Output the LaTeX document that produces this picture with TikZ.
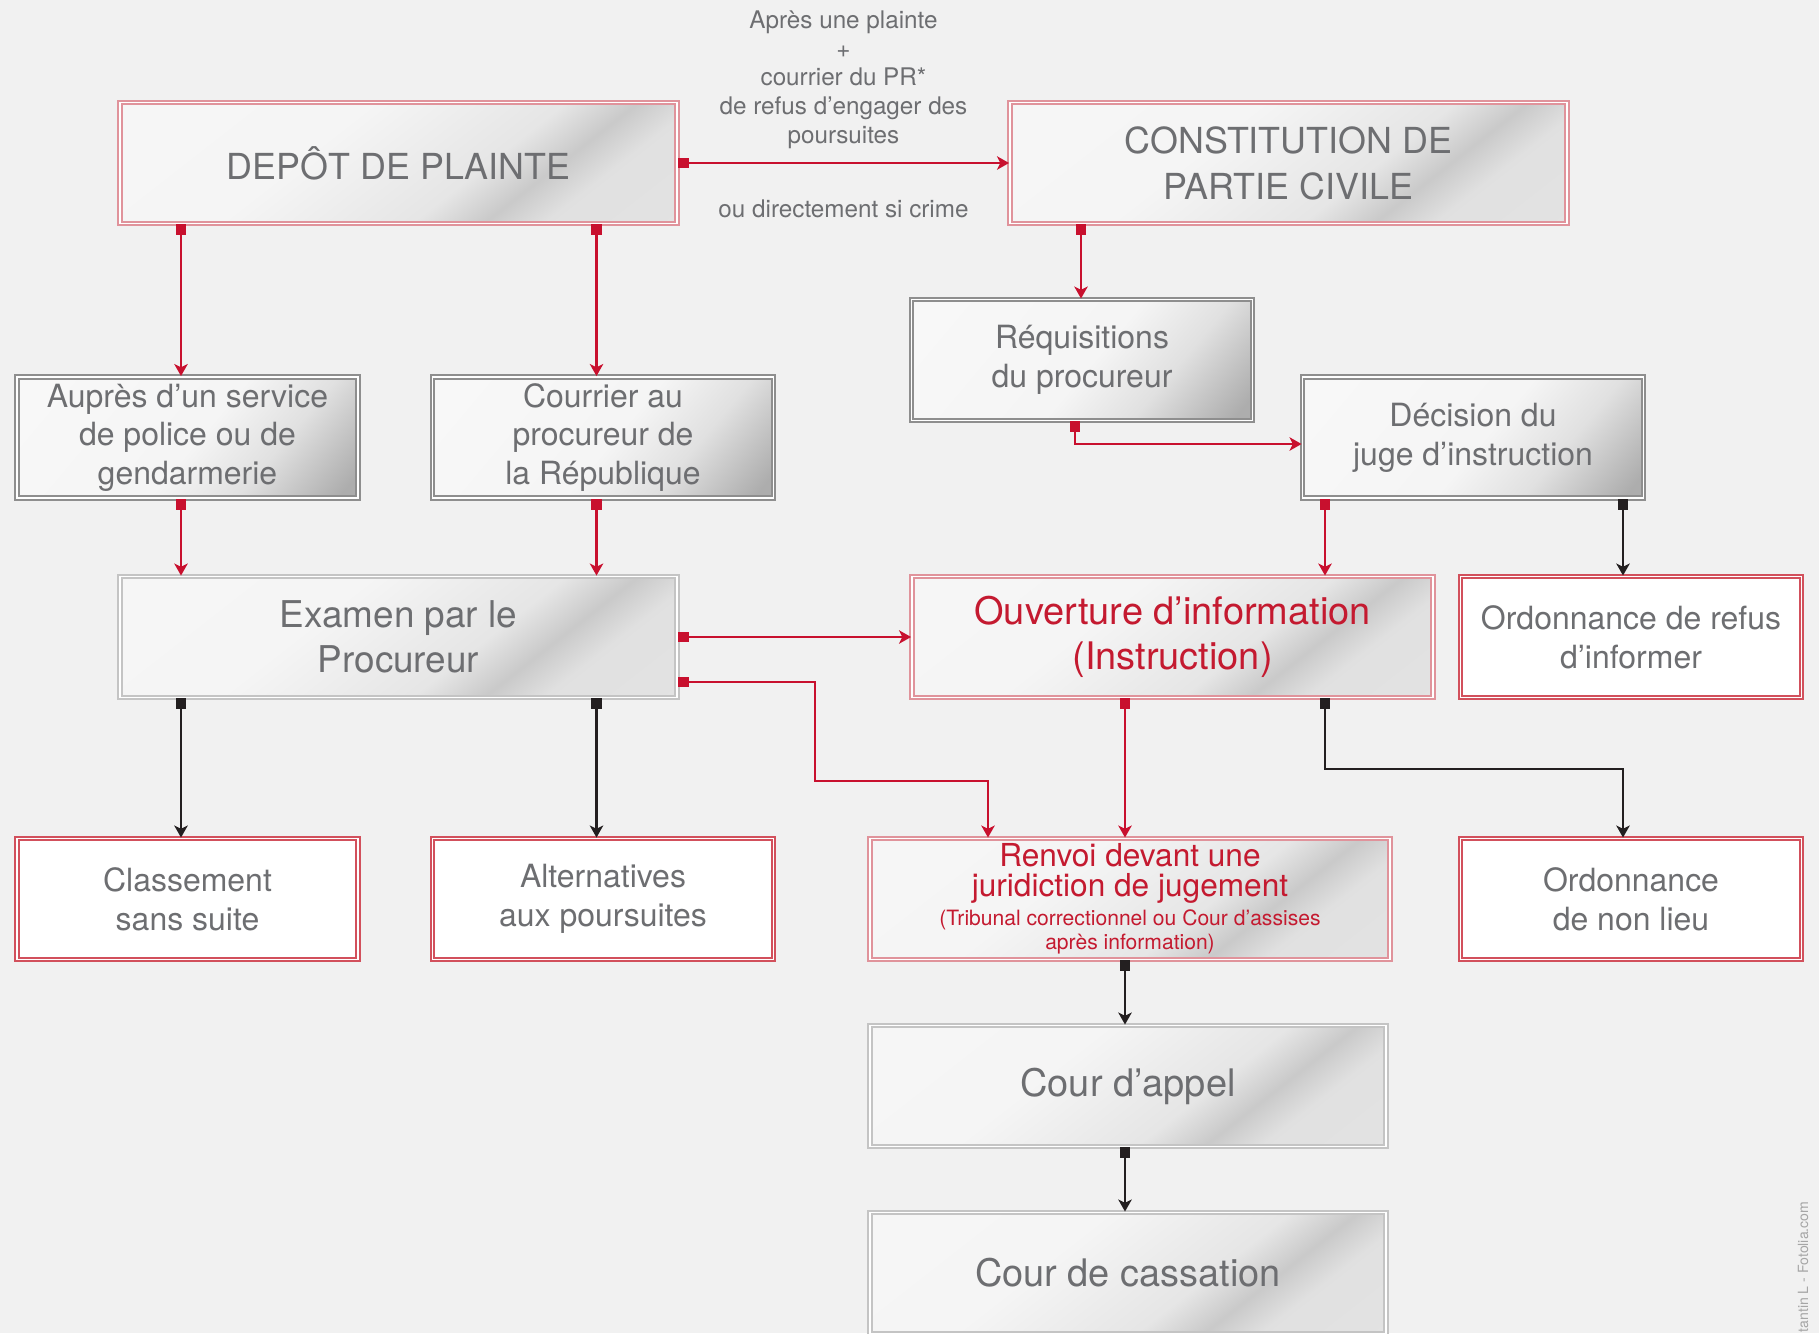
\documentclass[tikz,border=0pt]{standalone}
\usepackage{fontspec}
\setmainfont{TeX Gyre Heros}
\usepackage{tikz}
\usetikzlibrary{arrows,arrows.meta}
\definecolor{bgfill}{HTML}{F1F1F1}
\definecolor{txtgray}{HTML}{6D6E71}
\definecolor{txtred}{HTML}{C41A30}
\definecolor{linered}{HTML}{C8102E}
\definecolor{lineblack}{HTML}{231F20}
\definecolor{boxgray}{HTML}{8E8E8E}
\definecolor{palegray}{HTML}{C4C4C4}
\definecolor{redpale}{HTML}{E0939B}
\definecolor{boxred}{HTML}{D2505C}
\pgfdeclarehorizontalshading{sheen}{100bp}{color(0bp)=(white!97!black); color(40bp)=(white!96!black); color(59bp)=(white!90!black); color(66bp)=(white!79!black); color(72bp)=(white!88!black); color(100bp)=(white!90!black)}
\pgfdeclarehorizontalshading{gloss}{100bp}{color(0bp)=(white!98!black); color(52bp)=(white!96!black); color(66bp)=(white!88!black); color(82bp)=(white!68!black); color(100bp)=(white!68!black)}
\tikzstyle{box} = [rectangle, double=white, line width=0.55pt, double distance=0.55pt,
    text=txtgray, align=center, inner sep=0pt, minimum height=1.21cm,
    font=\fontsize{9.1}{11}\selectfont]
\tikzstyle{block} = [box, draw=boxgray, shade, shading=gloss, shading angle=-40,
    minimum width=3.41cm]
\tikzstyle{block2} = [box, draw=redpale, shade, shading=sheen, shading angle=-52,
    minimum width=5.57cm, font=\fontsize{10.2}{13.1}\selectfont]
\tikzstyle{block3} = [box, draw=boxred, fill=white, minimum width=3.41cm]
\tikzstyle{block4} = [box, draw=palegray, shade, shading=sheen, shading angle=-52,
    minimum width=5.57cm, font=\fontsize{10.5}{12.8}\selectfont]
\tikzstyle{lbl} = [text=txtgray, align=center, inner sep=0pt,
    font=\fontsize{6.9}{8.2}\selectfont]
\tikzstyle{line} = [draw=linered, line width=0.7pt,
    arrows={Square[length=3.1pt,width=3.1pt]-Stealth[length=3.4pt,width=3.8pt,inset=0.9pt]}]
\tikzstyle{line2} = [line, draw=lineblack]

\begin{document}
\begin{tikzpicture}
    \fill [bgfill] (0,0) rectangle (18.19,-13.33);
    \useasboundingbox (0,0) rectangle (18.19,-13.33);
    % Place nodes
    \node [block2] (depot) at (3.985,-1.63) {DEPÔT DE PLAINTE};
    \node [block2, right of=depot, node distance=8.9cm] (constit) {CONSTITUTION DE\\PARTIE CIVILE};
    \node [block, below of=depot, node distance=2.745cm, xshift=-2.11cm] (aupres) {Auprès d’un service\\de police ou de\\gendarmerie};
    \node [block, right of=aupres, node distance=4.155cm] (courrier) {Courrier au\\procureur de\\la République};
    \node [block4, below of=depot, node distance=4.74cm] (examen) {Examen par le\\Procureur};
    \node [block3, below of=aupres, node distance=4.615cm] (classement) {Classement\\sans suite};
    \node [block3, below of=courrier, node distance=4.615cm] (alternatives) {Alternatives\\aux poursuites};
    \node [block, below of=constit, node distance=1.97cm, xshift=-2.065cm] (requis) {Réquisitions\\du procureur};
    \node [block, right of=requis, node distance=3.91cm, yshift=-0.775cm] (decision) {Décision du\\juge d’instruction};
    \node [block2, right of=examen, node distance=7.74cm, minimum width=5.21cm, text=txtred, font=\fontsize{10.8}{12.8}\selectfont] (ouverture) {Ouverture d’information\\(Instruction)};
    \node [block3, right of=ouverture, node distance=4.585cm] (refus) {Ordonnance de refus\\d’informer};
    \node [block2, below of=ouverture, node distance=2.62cm, xshift=-0.425cm, minimum width=5.2cm, text=txtred, font=\fontsize{9}{8.3}\selectfont] (renvoi) {Renvoi devant une\\juridiction de jugement\\{\fontsize{6}{6.8}\selectfont(Tribunal correctionnel ou Cour d’assises}\\[-1.4pt]{\fontsize{6}{6.8}\selectfont après information)}};
    \node [block3, below of=refus, node distance=2.62cm] (nonlieu) {Ordonnance\\de non lieu};
    \node [block4, below of=renvoi, node distance=1.87cm, xshift=-0.02cm, minimum width=5.16cm, font=\fontsize{10.8}{12.8}\selectfont] (appel) {Cour d’appel};
    \node [block4, below of=appel, node distance=1.87cm, minimum width=5.16cm, font=\fontsize{10.8}{12.8}\selectfont] (cassation) {Cour de cassation};
    \node [rotate=90, anchor=west, inner sep=0pt, text=black!35, font=\fontsize{4}{5}\selectfont] (credit) at (18.03,-13.33) {tantin L - Fotolia.com};

    \coordinate (colA) at (1.81,0);
    \coordinate (colB) at (5.965,0);
    \coordinate (colR) at (10.81,0);
    \coordinate (colQ) at (10.75,0);
    \coordinate (colC) at (11.25,0);
    \coordinate (colD) at (13.25,0);
    \coordinate (colE) at (16.23,0);
    \coordinate (colF) at (9.88,0);
    \coordinate (bendA) at (8.15,-7.81);
    \coordinate (bendB) at (16.23,-7.69);

    % Draw edges
    \path [line] (depot) -- node [lbl, above=3.7pt] {Après une plainte\\+\\courrier du PR*\\de refus d’engager des\\poursuites} node [lbl, below=10pt] {ou directement si crime} (constit);
    \path [line] (depot.south -| colA) -- (aupres.north -| colA);
    \path [line] (depot.south -| colB) -- (courrier.north -| colB);
    \path [line] (aupres.south -| colA) -- (examen.north -| colA);
    \path [line] (courrier.south -| colB) -- (examen.north -| colB);
    \path [line2] (examen.south -| colA) -- (classement.north -| colA);
    \path [line2] (examen.south -| colB) -- (alternatives.north -| colB);
    \path [line] (examen) -- (ouverture);
    \path [line] ([yshift=-0.45cm]examen.east) -| (bendA) -| (colF |- renvoi.north);
    \path [line] (ouverture.south -| colC) -- (renvoi.north -| colC);
    \path [line2] (ouverture.south -| colD) |- (bendB) -- (nonlieu.north -| bendB);
    \path [line] (constit.south -| colR) -- (requis.north -| colR);
    \path [line] (requis.south -| colQ) |- ([yshift=-0.065cm]decision.west);
    \path [line] (decision.south -| colD) -- (ouverture.north -| colD);
    \path [line2] (decision.south -| colE) -- (refus.north -| colE);
    \path [line2] (renvoi.south -| colC) -- (appel.north -| colC);
    \path [line2] (appel.south -| colC) -- (cassation.north -| colC);
\end{tikzpicture}
\end{document}
